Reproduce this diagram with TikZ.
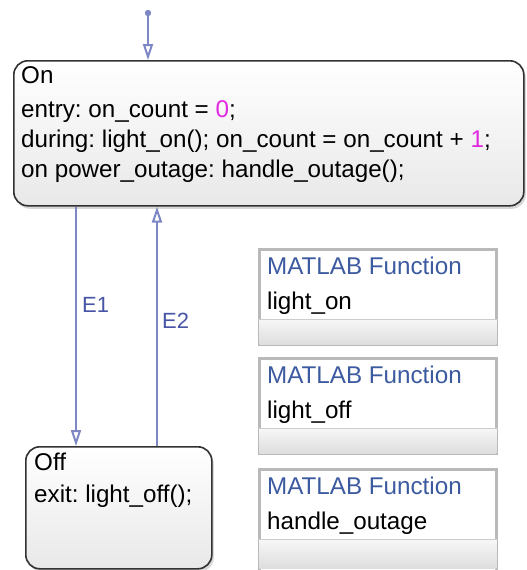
\documentclass[tikz,border=0pt]{standalone}
\usepackage{fontspec}
\setmainfont{Liberation Sans}
\usetikzlibrary{arrows.meta,shadows}
\definecolor{transcol}{RGB}{125,135,195}
\definecolor{lblblue}{RGB}{70,85,165}
\definecolor{funblue}{RGB}{60,90,160}
\definecolor{numcol}{RGB}{225,40,225}
\definecolor{stateline}{RGB}{50,50,50}
\frenchspacing
\begin{document}
\begin{tikzpicture}[x=1pt,y=-1pt,
    state/.style={draw=stateline, line width=1.6pt, rounded corners=14pt, top color=white, bottom color=gray!18,
        drop shadow={shadow xshift=2pt, shadow yshift=-3pt, opacity=.3}, anchor=north west, inner sep=0pt},
    txt/.style={anchor=base west, inner sep=0pt, font=\fontsize{24.2}{28}\selectfont},
    lbl/.style={anchor=base west, inner sep=0pt, text=lblblue, font=\fontsize{22}{26}\selectfont},
    fbox/.style={draw=gray!55, line width=2.5pt, fill=white, anchor=north west, inner sep=0pt,
        minimum width=237pt, minimum height=95pt, drop shadow={shadow xshift=2pt, shadow yshift=-2pt, opacity=.35}},
    strip/.style={top color=gray!6, bottom color=gray!26},
    trans/.style={draw=transcol, line width=2pt, -{Triangle[open, length=16pt, width=10pt]}}] %Chart de estados
        \useasboundingbox (0,0) rectangle (527,570);
        \fill[white] (0,0) rectangle (527,570);

        \node[state, minimum width=510pt, minimum height=145pt] (on) at (13,60) {};
        \node[state, minimum width=186pt, minimum height=122pt] (off) at (25,446) {};

        \node[txt] (onname) at (21,83) {On};
        \node[txt] (onentry) at (21,117) {entry: on\_count = \textcolor{numcol}{0};};
        \node[txt] (onduring) at (21,147) {during: light\_on(); on\_count = on\_count + \textcolor{numcol}{1};};
        \node[txt] (onpower) at (21,177) {on power\_outage: handle\_outage();};
        \node[txt] (offname) at (34,470) {Off};
        \node[txt] (offexit) at (34,502) {exit: light\_off();};

        \node[fbox] (fon) at (258,248) {};
        \node[fbox] (foff) at (258,357) {};
        \node[fbox, minimum height=112pt] (fout) at (258,468) {};

        \shade[strip] ([xshift=1.25pt,yshift=-71pt]fon.north west) rectangle ([xshift=-1.25pt,yshift=1.25pt]fon.south east);
        \shade[strip] ([xshift=1.25pt,yshift=-71pt]foff.north west) rectangle ([xshift=-1.25pt,yshift=1.25pt]foff.south east);
        \shade[strip] ([xshift=1.25pt,yshift=-71pt]fout.north west) rectangle ([xshift=-1.25pt,yshift=-100pt]fout.north east);
        \draw[gray!40, line width=1pt] ([yshift=-71pt]fon.north west) -- ([yshift=-71pt]fon.north east);
        \draw[gray!40, line width=1pt] ([yshift=-71pt]foff.north west) -- ([yshift=-71pt]foff.north east);
        \draw[gray!40, line width=1pt] ([yshift=-71pt]fout.north west) -- ([yshift=-71pt]fout.north east);

        \node[txt, text=funblue] (fonkind) at (267,274) {MATLAB Function};
        \node[txt] (fonname) at (267,309) {light\_on};
        \node[txt, text=funblue] (foffkind) at (267,383) {MATLAB Function};
        \node[txt] (foffname) at (267,418) {light\_off};
        \node[txt, text=funblue] (foutkind) at (267,494) {MATLAB Function};
        \node[txt] (foutname) at (267,529) {handle\_outage};

        \coordinate (init) at (148,13);
        \coordinate (e1) at (76,0);
        \coordinate (e2) at (157,0);

        \fill[transcol] (init) circle (3.2pt);
        \draw[trans] (init) -- (init |- on.north);
        \draw[trans] (on.south -| e1) -- (off.north -| e1);
        \draw[trans] (off.north -| e2) -- (on.south -| e2);

        \node[lbl] (e1lbl) at (82,312) {E1};
        \node[lbl] (e2lbl) at (162,328) {E2};
    \end{tikzpicture}
\end{document}
